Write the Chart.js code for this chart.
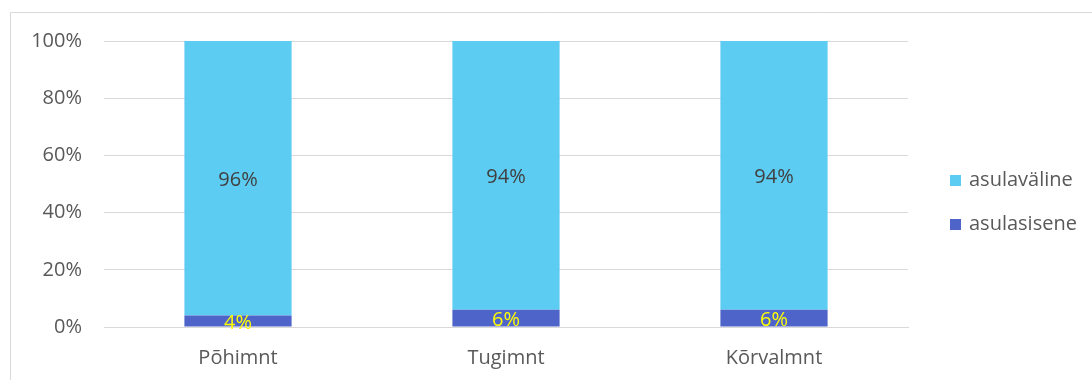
<!DOCTYPE html>
<html>
<head>
<meta charset="utf-8">
<script src="https://cdn.jsdelivr.net/npm/chart.js@4"></script>
<style>
  html, body { margin: 0; padding: 0; background: #fff; }
  #wrap { position: absolute; left: 0; top: 0; width: 1092px; height: 380px; }
</style>
</head>
<body>
<div id="wrap"><canvas id="c" width="1092" height="380"></canvas></div>
<script>
// Õppekavade jaotus: asulasisene vs asulaväline (protsentides)
const categories = ['Põhimnt', 'Tugimnt', 'Kõrvalmnt'];
const asulasisene = [4, 6, 6];
const asulavaline = [96, 94, 94];
const yTicks = [0, 20, 40, 60, 80, 100];

const FONT = '"Open Sans", Lato, sans-serif';
const FSIZE = 20;
const TEXT = '#595959';
const GRID = '#d9d9d9';

// Frame line around the chart area (top and left edges)
const framePlugin = {
  id: 'frame',
  beforeDraw(chart) {
    const ctx = chart.ctx;
    ctx.save();
    ctx.fillStyle = '#fff';
    ctx.fillRect(0, 0, chart.width, chart.height);
    ctx.strokeStyle = GRID;
    ctx.lineWidth = 1;
    ctx.beginPath();
    ctx.moveTo(10.5, chart.height);
    ctx.lineTo(10.5, 12.5);
    ctx.lineTo(chart.width, 12.5);
    ctx.stroke();
    ctx.restore();
  }
};

// Percent labels centred on each stacked segment
const segLabelPlugin = {
  id: 'segLabels',
  afterDatasetsDraw(chart) {
    const ctx = chart.ctx;
    ctx.save();
    ctx.font = FSIZE + 'px ' + FONT;
    ctx.textAlign = 'center';
    ctx.textBaseline = 'middle';
    chart.data.datasets.forEach((ds, di) => {
      const meta = chart.getDatasetMeta(di);
      meta.data.forEach((el, i) => {
        const yMid = (el.y + el.base) / 2;
        ctx.fillStyle = ds.labelColor;
        ctx.fillText(ds.data[i] + '%', el.x, yMid + 2);
      });
    });
    ctx.restore();
  }
};

// Legend on the right, top entry is the upper stack segment
const legendPlugin = {
  id: 'sideLegend',
  afterDraw(chart) {
    const ctx = chart.ctx;
    ctx.save();
    ctx.font = FSIZE + 'px ' + FONT;
    ctx.textBaseline = 'middle';
    const items = chart.data.datasets.slice().reverse();
    const x0 = 950, yStart = 180, step = 44;
    items.forEach((ds, k) => {
      const y = yStart + k * step;
      ctx.fillStyle = ds.backgroundColor;
      ctx.fillRect(x0, y - 5, 11, 11);
      ctx.fillStyle = TEXT;
      ctx.fillText(ds.label, x0 + 19, y);
    });
    ctx.restore();
  }
};

new Chart(document.getElementById('c'), {
  type: 'bar',
  data: {
    labels: categories,
    datasets: [
      { label: 'asulasisene', data: asulasisene, backgroundColor: '#4e64c8', labelColor: '#ffff00' },
      { label: 'asulaväline', data: asulavaline, backgroundColor: '#5dccf3', labelColor: '#404040' }
    ]
  },
  options: {
    responsive: false,
    animation: false,
    events: [],
    layout: { padding: { top: 41, right: 184, bottom: 0, left: 0 } },
    datasets: { bar: { categoryPercentage: 1, barPercentage: 0.4, borderWidth: 0 } },
    plugins: { legend: { display: false }, tooltip: { enabled: false } },
    scales: {
      x: {
        stacked: true,
        grid: { display: false, drawTicks: false },
        border: { display: true, color: GRID, width: 1 },
        ticks: { color: TEXT, font: { family: FONT, size: FSIZE }, padding: 19 },
        afterFit(scale) { scale.height = 53; }
      },
      y: {
        stacked: true,
        min: 0, max: 100,
        afterBuildTicks(scale) { scale.ticks = yTicks.map(v => ({ value: v })); },
        grid: { color: GRID, lineWidth: 1, drawTicks: false },
        border: { display: false },
        ticks: {
          color: TEXT, font: { family: FONT, size: FSIZE }, padding: 22,
          callback: v => v + '%'
        },
        afterFit(scale) { scale.width = 104; }
      }
    }
  },
  plugins: [framePlugin, segLabelPlugin, legendPlugin]
});
</script>
</body>
</html>
